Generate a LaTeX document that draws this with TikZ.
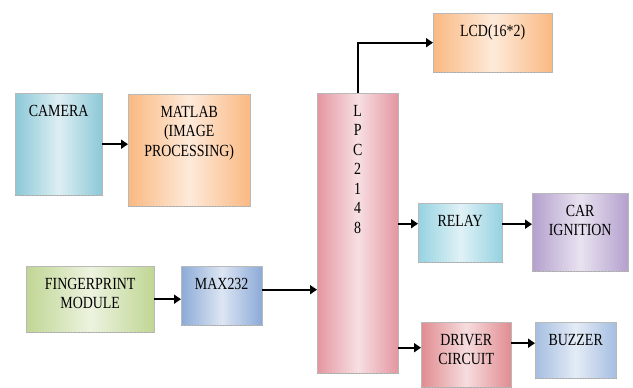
\documentclass[tikz,border=0pt]{standalone}
\usepackage{fontspec}
\setmainfont{Liberation Serif}[FakeStretch=0.82]
\usepackage{tikz}
\usetikzlibrary{arrows.meta,calc}

\definecolor{camblue}{RGB}{140,200,215}
\definecolor{matorange}{RGB}{250,185,130}
\definecolor{lpcpink}{RGB}{228,150,160}
\definecolor{fpgreen}{RGB}{192,214,148}
\definecolor{maxblue}{RGB}{140,170,215}
\definecolor{relaycyan}{RGB}{150,210,225}
\definecolor{carpurple}{RGB}{180,160,205}
\definecolor{drvred}{RGB}{225,140,145}
\definecolor{buzblue}{RGB}{165,190,225}

\newcommand{\blktxt}[3]{\parbox[t][#2pt][t]{#1pt}{\centering\vspace*{9.5pt}\strut #3}}

\tikzset{
  blk/.style={draw=gray!55, thin, inner sep=0pt, anchor=north west,
    left color=#1, right color=#1, middle color=#1!30,
    font=\fontsize{17}{19.5}\selectfont},
  arr/.style={line width=2.4pt, -{Triangle[length=7pt,width=9pt]}}
}

\begin{document}
\begin{tikzpicture}[x=1pt,y=-1pt]
\useasboundingbox (0,0) rectangle (633,388);

\node (cam) at (15,93) [blk=camblue] {\blktxt{87}{102}{CAMERA}};
\node (mat) at (128,94) [blk=matorange] {\blktxt{122}{112}{MATLAB\\(IMAGE\\PROCESSING)}};
\node (lpc) at (317,93) [blk=lpcpink] {\blktxt{81}{280}{L\\P\\C\\2\\1\\4\\8}};
\node (lcd) at (433,13) [blk=matorange] {\blktxt{119}{59}{LCD(16*2)}};
\node (fp) at (26,266) [blk=fpgreen] {\blktxt{128}{66}{FINGERPRINT\\MODULE}};
\node (max) at (181,266) [blk=maxblue] {\blktxt{81}{59}{MAX232}};
\node (rly) at (418,203) [blk=relaycyan] {\blktxt{84}{59}{RELAY}};
\node (car) at (532,193) [blk=carpurple] {\blktxt{96}{78}{CAR\\IGNITION}};
\node (drv) at (421,322) [blk=drvred] {\blktxt{90}{65}{DRIVER\\CIRCUIT}};
\node (buz) at (535,322) [blk=buzblue] {\blktxt{81}{56}{BUZZER}};

\foreach \n in {cam,mat,lcd,fp,max,rly,car,drv,buz,lpc}
  \draw[gray!70, dotted, thick] (\n.south west) -- (\n.south east);

\draw[arr] (cam.east) -- (cam.east -| mat.west);
\draw[arr] (lpc.north) |- (lcd.west);
\draw[arr] (fp.east) -- (fp.east -| max.west);
\draw[arr] ([yshift=6pt]max.east) -- ([yshift=6pt]max.east -| lpc.west);
\draw[arr] ([yshift=9pt]rly.west -| lpc.east) -- ([yshift=9pt]rly.west);
\draw[arr] ([yshift=8pt]car.west -| rly.east) -- ([yshift=8pt]car.west);
\draw[arr] ([yshift=7pt]drv.west -| lpc.east) -- ([yshift=7pt]drv.west);
\draw[arr] ([yshift=7pt]buz.west -| drv.east) -- ([yshift=7pt]buz.west);
\end{tikzpicture}
\end{document}
